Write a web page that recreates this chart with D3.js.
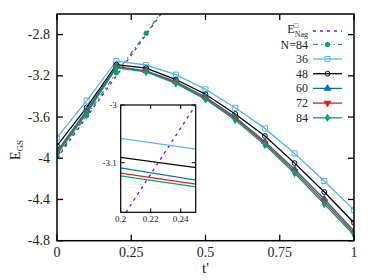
<!DOCTYPE html>
<html>
<head>
<meta charset="utf-8">
<script src="https://cdn.jsdelivr.net/npm/d3@7"></script>
<style>
  body { margin: 0; background: #fff; }
  svg text { font-family: "Liberation Serif", "DejaVu Serif", serif; fill: #222; }
</style>
</head>
<body>
<svg id="chart" width="374" height="280"></svg>
<script>
// t' values shared by all system sizes
var tVals = [0, 0.1, 0.2, 0.3, 0.4, 0.5, 0.6, 0.7, 0.8, 0.9, 1.0];

// ground state energies per size
var e36 = [-3.80, -3.44, -3.058, -3.095, -3.189, -3.331, -3.510, -3.710, -3.953, -4.221, -4.503];
var e48 = [-3.878, -3.506, -3.091, -3.126, -3.236, -3.379, -3.570, -3.784, -4.047, -4.328, -4.626];
var e60 = [-3.93, -3.535, -3.109, -3.151, -3.255, -3.405, -3.600, -3.839, -4.107, -4.395, -4.706];
var e72 = [-3.946, -3.555, -3.118, -3.156, -3.265, -3.418, -3.615, -3.855, -4.127, -4.420, -4.727];
var e84 = [-3.96, -3.565, -3.123, -3.161, -3.273, -3.428, -3.629, -3.871, -4.146, -4.444, -4.745];

// N=84 dash-dot branch
var tBranch = [0, 0.1, 0.2, 0.3, 0.4];
var eBranch = [-3.98, -3.585, -3.17, -2.787, -2.39];

// Nagaoka energy line
var tNag = [0, 0.5];
var eNag = [-4.0, -2.0];

var xTicks = [0, 0.25, 0.5, 0.75, 1];
var yTicks = [-2.8, -3.2, -3.6, -4, -4.4, -4.8];
var insetXTicks = [0.2, 0.22, 0.24];
var insetYTicks = [-3, -3.1];

var svg = d3.select("#chart");
var pL = 57, pR = 354, pT = 14, pB = 240.7;

var x = d3.scaleLinear().domain([0, 1]).range([pL, pR]);
var y = d3.scaleLinear().domain([-4.8, -2.6]).range([pB, pT]);

var series = [
    { name: "36", vals: e36, color: "#56B4E9", sym: d3.symbolSquare, fill: "none", size: 26 },
    { name: "48", vals: e48, color: "#000000", sym: d3.symbolCircle, fill: "none", size: 18 },
    { name: "60", vals: e60, color: "#0072B2", sym: d3.symbolTriangle, fill: "#0072B2", size: 18 },
    { name: "72", vals: e72, color: "#E51E10", sym: d3.symbolTriangle, fill: "#E51E10", size: 18, flip: true },
    { name: "84", vals: e84, color: "#009E73", sym: d3.symbolDiamond, fill: "#009E73", size: 14 }
];

var defs = svg.append("defs");
defs.append("clipPath").attr("id", "mainclip")
    .append("rect").attr("x", pL).attr("y", pT).attr("width", pR - pL).attr("height", pB - pT);

var plot = svg.append("g").attr("clip-path", "url(#mainclip)");

var line = d3.line().x(d => x(d[0])).y(d => y(d[1]));

// Nagaoka dashed line
plot.append("path")
    .datum(tNag.map((t, i) => [t, eNag[i]]))
    .attr("d", line)
    .attr("fill", "none").attr("stroke", "#9400D3").attr("stroke-width", 1.3)
    .attr("stroke-dasharray", "3,4");

// N=84 dash-dot branch
var branch = tBranch.map((t, i) => [t, eBranch[i]]);
plot.append("path").datum(branch).attr("d", line)
    .attr("fill", "none").attr("stroke", "#009E73").attr("stroke-width", 1.2)
    .attr("stroke-dasharray", "5,3,1.5,3");
plot.selectAll(".bpt").data(branch).enter().append("circle")
    .attr("cx", d => x(d[0])).attr("cy", d => y(d[1])).attr("r", 2.6)
    .attr("fill", "#009E73");

function marker(s) {
    return d3.symbol().type(s.sym).size(s.size)();
}

series.forEach(function (s) {
    var pts = tVals.map((t, i) => [t, s.vals[i]]);
    plot.append("path").datum(pts).attr("d", line)
        .attr("fill", "none").attr("stroke", s.color).attr("stroke-width", 1.3);
    plot.selectAll(".m" + s.name).data(pts).enter().append("path")
        .attr("d", marker(s))
        .attr("transform", d => "translate(" + x(d[0]) + "," + y(d[1]) + ")" + (s.flip ? " rotate(180)" : ""))
        .attr("fill", s.fill).attr("stroke", s.color).attr("stroke-width", 1);
});

// frame and ticks
svg.append("rect").attr("x", pL).attr("y", pT).attr("width", pR - pL).attr("height", pB - pT)
    .attr("fill", "none").attr("stroke", "#000").attr("stroke-width", 1.5);

var tl = 6;
xTicks.forEach(function (t) {
    svg.append("line").attr("x1", x(t)).attr("x2", x(t)).attr("y1", pB).attr("y2", pB - tl).attr("stroke", "#000").attr("stroke-width", 1.3);
    svg.append("line").attr("x1", x(t)).attr("x2", x(t)).attr("y1", pT).attr("y2", pT + tl).attr("stroke", "#000").attr("stroke-width", 1.3);
    svg.append("text").attr("x", x(t)).attr("y", pB + 16).attr("text-anchor", "middle")
        .attr("font-size", 14).text(t);
});
yTicks.forEach(function (v) {
    svg.append("line").attr("x1", pL).attr("x2", pL + tl).attr("y1", y(v)).attr("y2", y(v)).attr("stroke", "#000").attr("stroke-width", 1.3);
    svg.append("line").attr("x1", pR).attr("x2", pR - tl).attr("y1", y(v)).attr("y2", y(v)).attr("stroke", "#000").attr("stroke-width", 1.3);
    svg.append("text").attr("x", pL - 7).attr("y", y(v) + 4.5).attr("text-anchor", "end")
        .attr("font-size", 14).text(v);
});

// axis labels
var yl = svg.append("text").attr("transform", "translate(20,150) rotate(-90)")
    .attr("text-anchor", "middle").attr("font-size", 14);
yl.append("tspan").text("E");
yl.append("tspan").attr("font-size", 9).attr("dy", 3).text("GS");

svg.append("text").attr("x", x(0.5)).attr("y", 273).attr("text-anchor", "middle")
    .attr("font-size", 15).text("t'");

// legend
var lx = 308, lx1 = 313, lx2 = 342;
var legRows = [
    { y: 31, kind: "nag" },
    { y: 44.5, kind: "branch" }
].concat(series.map((s, i) => ({ y: 59 + i * 14.7, kind: "s", s: s })));

legRows.forEach(function (r) {
    if (r.kind === "nag") {
        var t = svg.append("text").attr("x", lx).attr("y", r.y + 2).attr("text-anchor", "end").attr("font-size", 12);
        t.append("tspan").text("E");
        t.append("tspan").attr("font-size", 8).attr("dy", 3.5).text("Nag");
        svg.append("text").attr("x", lx - 12).attr("y", r.y - 3.5).attr("text-anchor", "middle")
            .attr("font-size", 8).text("\u25A1");
        svg.append("line").attr("x1", lx1).attr("x2", lx2).attr("y1", r.y).attr("y2", r.y)
            .attr("stroke", "#9400D3").attr("stroke-width", 1.3).attr("stroke-dasharray", "3,4");
    } else if (r.kind === "branch") {
        svg.append("text").attr("x", lx).attr("y", r.y + 4).attr("text-anchor", "end").attr("font-size", 12).text("N=84");
        svg.append("line").attr("x1", lx1).attr("x2", lx2).attr("y1", r.y).attr("y2", r.y)
            .attr("stroke", "#009E73").attr("stroke-width", 1.2).attr("stroke-dasharray", "5,3,1.5,3");
        svg.append("circle").attr("cx", (lx1 + lx2) / 2).attr("cy", r.y).attr("r", 2.6).attr("fill", "#009E73");
    } else {
        var s = r.s;
        svg.append("text").attr("x", lx).attr("y", r.y + 4).attr("text-anchor", "end").attr("font-size", 12)
            .attr("fill", "#444").text(s.name);
        svg.append("line").attr("x1", lx1).attr("x2", lx2).attr("y1", r.y).attr("y2", r.y)
            .attr("stroke", s.color).attr("stroke-width", 1.3);
        svg.append("path").attr("d", marker(s))
            .attr("transform", "translate(" + (lx1 + lx2) / 2 + "," + r.y + ")" + (s.flip ? " rotate(180)" : ""))
            .attr("fill", s.fill).attr("stroke", s.color).attr("stroke-width", 1);
    }
});

// inset
var il = 120.7, ir = 195.7, it = 105, ib = 212.3;
var ix = d3.scaleLinear().domain([0.2, 0.25]).range([il, ir]);
var iy = d3.scaleLinear().domain([-3.186, -3.0]).range([ib, it]);
var iline = d3.line().x(d => ix(d[0])).y(d => iy(d[1]));

defs.append("clipPath").attr("id", "insetclip")
    .append("rect").attr("x", il).attr("y", it).attr("width", ir - il).attr("height", ib - it);

svg.append("rect").attr("x", il).attr("y", it).attr("width", ir - il).attr("height", ib - it).attr("fill", "#fff");
var ip = svg.append("g").attr("clip-path", "url(#insetclip)");

ip.append("path").datum(tNag.map((t, i) => [t, eNag[i]])).attr("d", iline)
    .attr("fill", "none").attr("stroke", "#9400D3").attr("stroke-width", 1.3).attr("stroke-dasharray", "3,4");
series.forEach(function (s) {
    ip.append("path").datum(tVals.map((t, i) => [t, s.vals[i]])).attr("d", iline)
        .attr("fill", "none").attr("stroke", s.color).attr("stroke-width", 1.2);
});

svg.append("rect").attr("x", il).attr("y", it).attr("width", ir - il).attr("height", ib - it)
    .attr("fill", "none").attr("stroke", "#000").attr("stroke-width", 1.2);

var itl = 4;
insetXTicks.forEach(function (t) {
    svg.append("line").attr("x1", ix(t)).attr("x2", ix(t)).attr("y1", ib).attr("y2", ib - itl).attr("stroke", "#000");
    svg.append("line").attr("x1", ix(t)).attr("x2", ix(t)).attr("y1", it).attr("y2", it + itl).attr("stroke", "#000");
    svg.append("text").attr("x", ix(t)).attr("y", ib + 10).attr("text-anchor", "middle")
        .attr("font-size", 9).text(t);
});
insetYTicks.forEach(function (v) {
    svg.append("line").attr("x1", il).attr("x2", il + itl).attr("y1", iy(v)).attr("y2", iy(v)).attr("stroke", "#000");
    svg.append("line").attr("x1", ir).attr("x2", ir - itl).attr("y1", iy(v)).attr("y2", iy(v)).attr("stroke", "#000");
    svg.append("text").attr("x", il - 4).attr("y", iy(v) + 3).attr("text-anchor", "end")
        .attr("font-size", 9).text(v);
});
</script>
</body>
</html>
